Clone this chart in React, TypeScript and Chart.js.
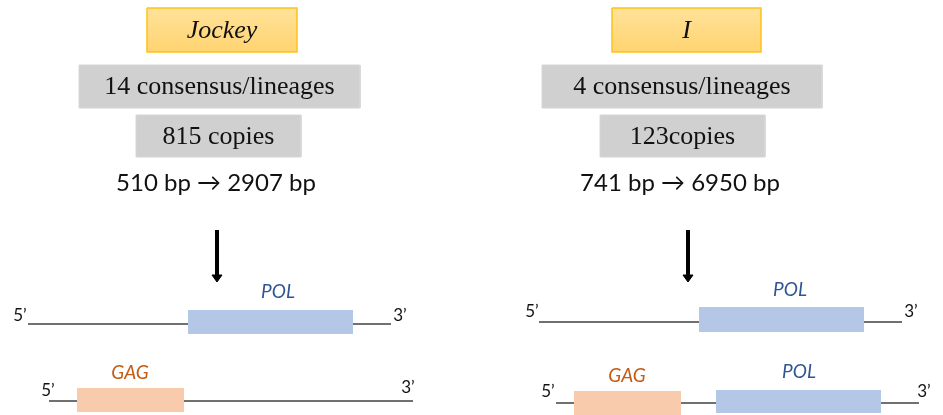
import React, { useEffect, useRef } from "react";
import { Chart, registerables } from "chart.js";

Chart.register(...registerables);

// ---- data (diagram units on a 0..943 x 0..415 plane) ----
const titleLabels = ["Jockey", "I"];
const titleBoxX = [[147, 297], [612, 761]];
const titleBoxY = [8, 52];

const lineageLabels = ["14 consensus/lineages", "4 consensus/lineages"];
const lineageBoxX = [[79, 360], [542, 822]];
const lineageBoxY = [65, 108];

const copyLabels = ["815 copies", "123copies"];
const copyBoxX = [[136, 301], [600, 765]];
const copyBoxY = [115, 157];

const rangeLabels = ["510 bp \u2192 2907 bp", "741 bp \u2192 6950 bp"];
const rangeCenterX = [216, 680];
const rangeCenterY = 183;

const arrowX = [217, 688];
const arrowY = [230, 282];

// backbones: [x0, x1, y]
const backbones = [
  [28, 391, 324],
  [49, 413, 401],
  [539, 902, 322],
  [556, 919, 403],
];

// gene boxes: [x0, x1, y0, y1]
const polBoxes = [
  [188, 353, 310, 334],
  [699, 864, 307, 332],
  [716, 881, 390, 413],
];
const gagBoxes = [
  [77, 184, 388, 412],
  [574, 681, 391, 415],
];

const polLabelPos = [[278, 292], [790, 290], [799, 372]];
const gagLabelPos = [[130, 373], [627, 376]];

// end labels: [text, x, y]
const endLabels: [string, number, number][] = [
  ["5\u2019", 20, 316],
  ["3\u2019", 400, 316],
  ["5\u2019", 48, 391],
  ["3\u2019", 408, 388],
  ["5\u2019", 532, 312],
  ["3\u2019", 911, 312],
  ["5\u2019", 548, 392],
  ["3\u2019", 924, 392],
];

const rect = (x0: number, x1: number, y0: number, y1: number) => [
  { x: x0, y: y0 },
  { x: x1, y: y0 },
  { x: x1, y: y1 },
  { x: x0, y: y1 },
  { x: x0, y: y0 },
];

const SERIF = "'Liberation Serif', 'Times New Roman', serif";
const SANS = "Lato, 'Noto Sans', 'DejaVu Sans', sans-serif";

const textPlugin = {
  id: "diagramText",
  afterDatasetsDraw(chart: any) {
    const { ctx } = chart;
    const xs = chart.scales.x;
    const ys = chart.scales.y;
    const px = (v: number) => xs.getPixelForValue(v);
    const py = (v: number) => ys.getPixelForValue(v);
    ctx.save();
    ctx.textAlign = "center";
    ctx.textBaseline = "middle";
    ctx.fillStyle = "#111111";

    ctx.font = `italic 26px ${SERIF}`;
    titleLabels.forEach((t, i) => {
      const [a, b] = titleBoxX[i];
      ctx.fillText(t, px((a + b) / 2), py((titleBoxY[0] + titleBoxY[1]) / 2) + 1);
    });
    ctx.font = `26px ${SERIF}`;
    lineageLabels.forEach((t, i) => {
      const [a, b] = lineageBoxX[i];
      ctx.fillText(t, px((a + b) / 2), py((lineageBoxY[0] + lineageBoxY[1]) / 2) + 1);
    });
    copyLabels.forEach((t, i) => {
      const [a, b] = copyBoxX[i];
      ctx.fillText(t, px((a + b) / 2), py((copyBoxY[0] + copyBoxY[1]) / 2) + 1);
    });
    ctx.font = `24px ${SANS}`;
    rangeLabels.forEach((t, i) => {
      ctx.fillText(t, px(rangeCenterX[i]), py(rangeCenterY));
    });

    ctx.font = `italic 19px ${SANS}`;
    ctx.fillStyle = "#2F5597";
    polLabelPos.forEach(([x, y]) => ctx.fillText("POL", px(x), py(y)));
    ctx.fillStyle = "#C55A11";
    gagLabelPos.forEach(([x, y]) => ctx.fillText("GAG", px(x), py(y)));

    ctx.font = `17px ${SANS}`;
    ctx.fillStyle = "#111111";
    endLabels.forEach(([t, x, y]) => ctx.fillText(t, px(x), py(y)));
    ctx.restore();
  },
};

export default function App() {
  const ref = useRef<HTMLCanvasElement | null>(null);

  useEffect(() => {
    document.body.style.margin = "0";
    const canvas = ref.current;
    if (!canvas) return;

    const base = {
      type: "line" as const,
      pointRadius: 0,
      pointHoverRadius: 0,
      tension: 0,
      clip: false as any,
    };

    const titleGradient = (c: any) => {
      const chart = c.chart;
      const ys = chart && chart.scales && chart.scales.y;
      if (!ys) return "#FFD979";
      const t = ys.getPixelForValue(titleBoxY[0]);
      const b = ys.getPixelForValue(titleBoxY[1]);
      if (!isFinite(t) || !isFinite(b)) return "#FFD979";
      const g = chart.ctx.createLinearGradient(0, t, 0, b);
      g.addColorStop(0, "#FFE29A");
      g.addColorStop(1, "#FFD471");
      return g;
    };

    const datasets: any[] = [];
    // arrows (shaft + head)
    arrowX.forEach((x) => {
      datasets.push({
        ...base,
        data: [
          { x: x - 5, y: arrowY[1] - 7 },
          { x: x + 5, y: arrowY[1] - 7 },
          { x: x, y: arrowY[1] },
          { x: x - 5, y: arrowY[1] - 7 },
        ],
        fill: "shape",
        backgroundColor: "#000000",
        borderColor: "#000000",
        borderWidth: 1,
      });
      datasets.push({
        ...base,
        data: [
          { x, y: arrowY[0] },
          { x, y: arrowY[1] - 6 },
        ],
        fill: false,
        borderColor: "#000000",
        borderWidth: 4,
      });
    });
    // title boxes
    titleBoxX.forEach(([a, b]) => {
      datasets.push({
        ...base,
        data: rect(a, b, titleBoxY[0], titleBoxY[1]),
        fill: "shape",
        backgroundColor: titleGradient,
        borderColor: "#FFC21A",
        borderWidth: 1.5,
      });
    });
    lineageBoxX.forEach(([a, b]) => {
      datasets.push({
        ...base,
        data: rect(a, b, lineageBoxY[0], lineageBoxY[1]),
        fill: "shape",
        backgroundColor: "#D0D0D0",
        borderColor: "#D6D6D6",
        borderWidth: 1,
      });
    });
    copyBoxX.forEach(([a, b]) => {
      datasets.push({
        ...base,
        data: rect(a, b, copyBoxY[0], copyBoxY[1]),
        fill: "shape",
        backgroundColor: "#D0D0D0",
        borderColor: "#D6D6D6",
        borderWidth: 1,
      });
    });
    polBoxes.forEach(([a, b, c, d]) => {
      datasets.push({
        ...base,
        data: rect(a, b, c, d),
        fill: "shape",
        backgroundColor: "#B4C7E7",
        borderColor: "#B4C7E7",
        borderWidth: 0,
      });
    });
    gagBoxes.forEach(([a, b, c, d]) => {
      datasets.push({
        ...base,
        data: rect(a, b, c, d),
        fill: "shape",
        backgroundColor: "#F8CBAD",
        borderColor: "#F8CBAD",
        borderWidth: 0,
      });
    });
    backbones.forEach(([a, b, y]) => {
      datasets.push({
        ...base,
        data: [
          { x: a, y },
          { x: b, y },
        ],
        fill: false,
        borderColor: "#404040",
        borderWidth: 1.5,
      });
    });

    const chart = new Chart(canvas, {
      type: "scatter",
      data: { datasets },
      options: {
        animation: false,
        responsive: false,
        maintainAspectRatio: false,
        events: [],
        layout: { padding: 0 },
        plugins: {
          legend: { display: false },
          tooltip: { enabled: false },
          title: { display: false },
        },
        scales: {
          x: { type: "linear", min: 0, max: 943, display: false },
          y: { type: "linear", min: 0, max: 415, reverse: true, display: false },
        },
      },
      plugins: [textPlugin],
    } as any);

    return () => chart.destroy();
  }, []);

  return (
    <div style={{ width: 943, height: 415, background: "#ffffff" }}>
      <canvas ref={ref} width={943} height={415} style={{ display: "block" }} />
    </div>
  );
}
